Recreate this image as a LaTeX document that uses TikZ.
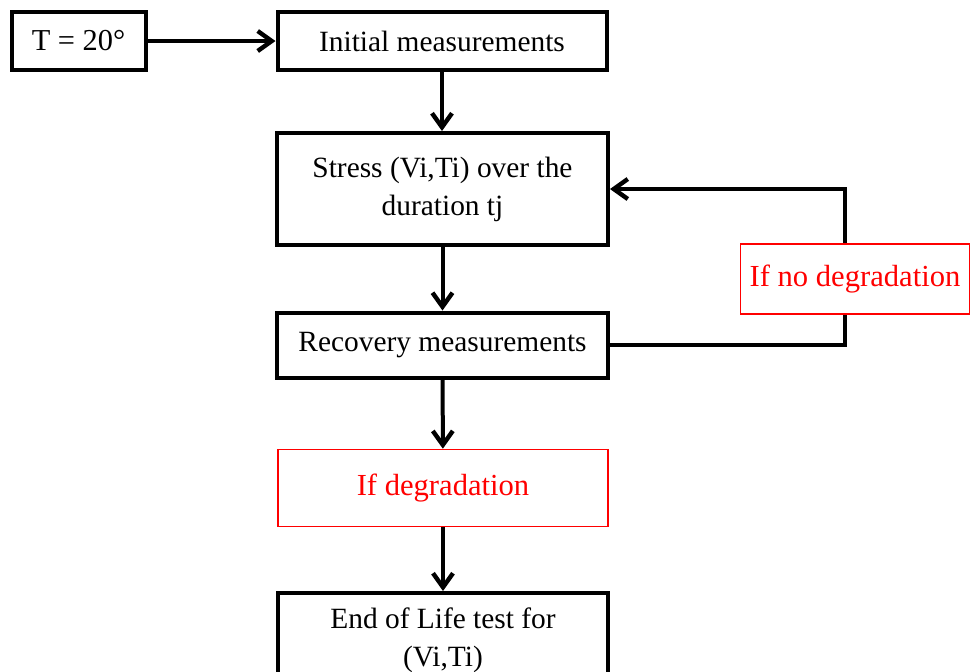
\documentclass[tikz,border=0pt]{standalone}
\usepackage{fontspec}
\setmainfont{Liberation Serif}
\usetikzlibrary{arrows.meta,positioning,calc}

\begin{document}
\begin{tikzpicture}[
    x=0.5pt, y=-0.5pt,
    >={Straight Barb[length=7pt,width=10pt,line width=2.2pt]},
    stepbox/.style={draw, rectangle, line width=2pt,
        inner sep=0pt, align=center,
        font=\fontsize{14.7}{19}\selectfont},
    condbox/.style={draw=red, rectangle, line width=0.8pt,
        inner sep=0pt, align=center, text=red,
        font=\fontsize{15.3}{19}\selectfont},
    flow/.style={->, line width=2pt},
    loopline/.style={line width=2pt}
]
\clip (0,0) rectangle (970,671);

\node[stepbox, minimum width=67pt, minimum height=29pt, font=\fontsize{15.2}{19}\selectfont] (temp) at (78.5,41) {T = 20°};
\node[stepbox, minimum width=164.5pt, minimum height=29pt] (init) at (442,41) {Initial measurements};
\node[stepbox, minimum width=165.5pt, minimum height=56pt] (stress) at (442.5,189) {Stress (Vi,Ti) over the\\duration tj};
\node[stepbox, minimum width=165.5pt, minimum height=32.5pt] (recov) at (442.5,345) {Recovery measurements};
\node[condbox, minimum width=114.5pt, minimum height=35pt] (nodeg) at (855,279) {If no degradation};
\node[condbox, minimum width=165pt, minimum height=38.5pt] (deg) at (443,488) {If degradation};
\node[stepbox, minimum width=165pt, minimum height=47pt] (eol) at (443,640) {End of Life test for\\(Vi,Ti)};

% feedback loop
\coordinate (turn) at (845,0);

\draw[flow] (temp) -- (init);
\draw[flow] (init.south) -- (init.south |- stress.north);
\draw[flow] (stress) -- (recov);
\draw[flow] (recov) -- (deg);
\draw[flow] (deg) -- (eol);
\draw[loopline] (recov.east) -| (nodeg.south -| turn);
\draw[flow] (nodeg.north -| turn) |- (stress.east);

\end{tikzpicture}
\end{document}
